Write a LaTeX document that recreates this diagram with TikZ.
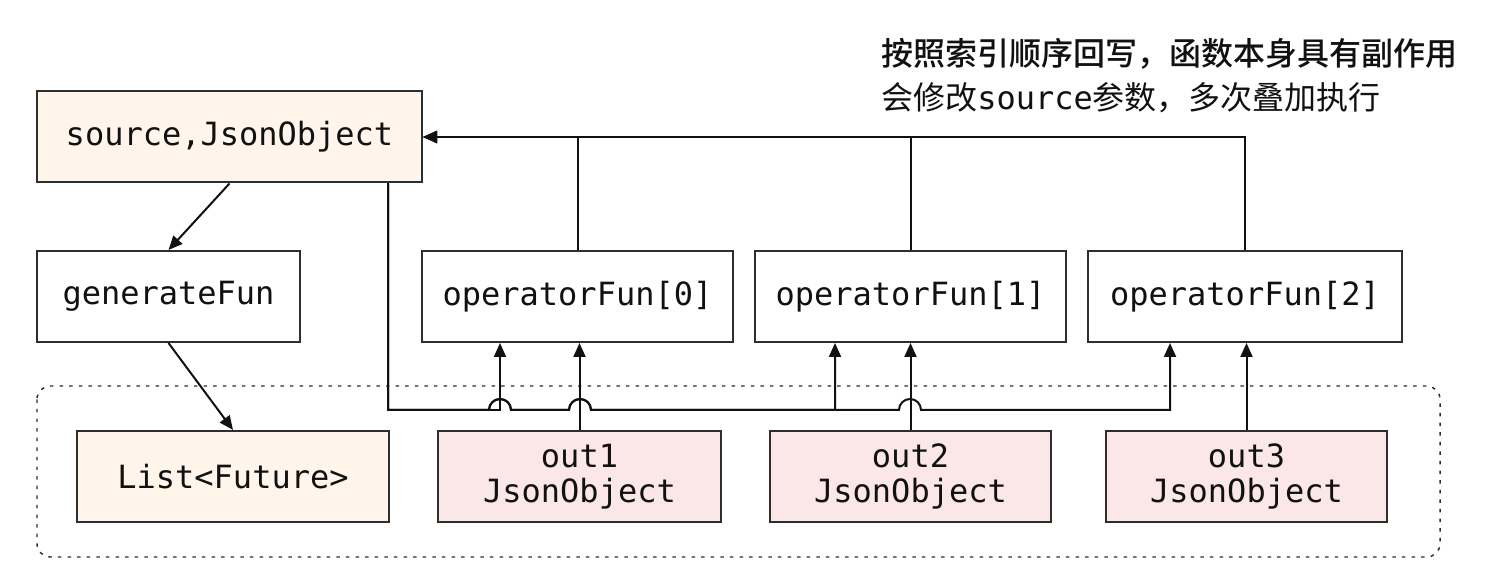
\documentclass[tikz,border=0pt]{standalone}
\usepackage{fontspec}
\setmonofont{DejaVu Sans Mono}
\newfontfamily\cjk{Noto Sans CJK SC}
\newfontfamily\cjkbold{Noto Sans CJK SC Medium}
\usetikzlibrary{arrows.meta}
\definecolor{bordc}{HTML}{2E2E2E}
\definecolor{orfill}{HTML}{FFF5EA}
\definecolor{pkfill}{HTML}{FBE7E7}
\definecolor{txtc}{HTML}{111111}
\begin{document}
\begin{tikzpicture}[x=0.75pt,y=-0.75pt,
  box/.style={draw=bordc, line width=1.5pt, text=txtc,
    font=\ttfamily\fontsize{24}{26}\selectfont, align=center,
    inner sep=0pt, minimum height=68.25pt},
  orbox/.style={box, fill=orfill},
  pkbox/.style={box, fill=pkfill},
  conn/.style={line width=1.5pt, draw=txtc, -{Triangle[length=10.5pt,width=9pt]}},
  note/.style={anchor=base west, inner sep=0pt, text=txtc}]
\useasboundingbox[fill=white] (0,0) rectangle (1502,580);

% group
\draw[bordc, line width=1.1pt, dash pattern=on 2.6pt off 4.6pt, rounded corners=10pt]
  (37,386) rectangle (1440,557);

% nodes
\node[orbox, minimum width=288.75pt] (src) at (229.5,137) {source,JsonObject};
\node[box, minimum width=197.25pt] (gen) at (168.5,296.5) {generateFun};
\node[box, minimum width=233.25pt] (op0) at (577.5,296.5) {operatorFun[0]};
\node[box, minimum width=233.25pt] (op1) at (910.5,296.5) {operatorFun[1]};
\node[box, minimum width=235.5pt] (op2) at (1245,296.5) {operatorFun[2]};
\node[orbox, minimum width=234pt] (list) at (233,476.5) {List<Future>};
\node[pkbox, minimum width=212.25pt] (out1) at (579.5,476.5) {out1\\JsonObject};
\node[pkbox, minimum width=210.75pt] (out2) at (910.5,476.5) {out2\\JsonObject};
\node[pkbox, minimum width=210.75pt] (out3) at (1246.5,476.5) {out3\\JsonObject};

% notes
\node[note, font=\cjkbold\fontsize{24}{28}\selectfont] (n1) at (881,66)
  {按照索引顺序回写，函数本身具有副作用};
\node[note, font=\cjk\fontsize{24}{28}\selectfont] (n2) at (881,110)
  {会修改{\ttfamily\fontsize{24}{28}\selectfont source}参数，多次叠加执行};

% coordinates for the bottom routing
\coordinate (s1) at (388,410);
\coordinate (c0) at (500,410);
\coordinate (c1) at (835,410);
\coordinate (c2) at (1170,410);
\coordinate (h0) at (489,410);
\coordinate (h1) at (569,410);
\coordinate (h2) at (899,410);

% left flow
\draw[conn] (src.south) -- (gen.north);
\draw[conn] (gen.south) -- (list.north);

% source -> operators (bottom)
\draw[conn] (s1 |- src.south) -- (s1) -- (c0) -- (c0 |- op0.south);
\draw[conn] (s1 |- src.south) -- (s1) -- (h0) arc[start angle=180,end angle=0,radius=8.25pt]
  -- (h1) arc[start angle=180,end angle=0,radius=8.25pt] -- (c1) -- (c1 |- op1.south);
\draw[conn] (s1 |- src.south) -- (s1) -- (h0) arc[start angle=180,end angle=0,radius=8.25pt]
  -- (h1) arc[start angle=180,end angle=0,radius=8.25pt] -- (c1)
  -- (h2) arc[start angle=180,end angle=0,radius=8.25pt] -- (c2) -- (c2 |- op2.south);

% outs -> operators
\draw[conn] (out1.north) -- (out1.north |- op0.south);
\draw[conn] (out2.north) -- (out2.north |- op1.south);
\draw[conn] (out3.north) -- (out3.north |- op2.south);

% operators -> source (top)
\draw[conn] (op0.north) |- (src.east);
\draw[conn] (op1.north) |- (src.east);
\draw[conn] (op2.north) |- (src.east);
\end{tikzpicture}
\end{document}
